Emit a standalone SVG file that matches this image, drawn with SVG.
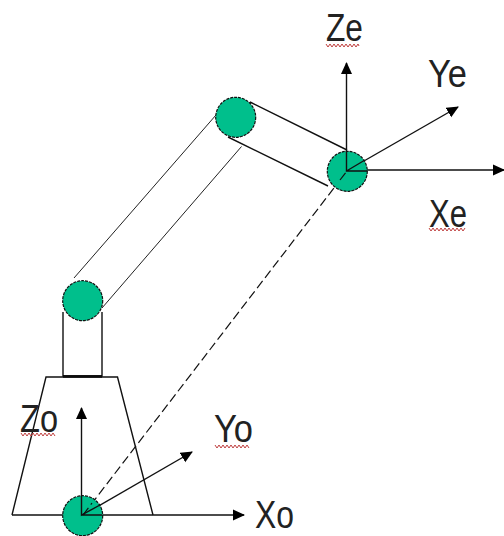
<svg xmlns="http://www.w3.org/2000/svg" width="504" height="536" viewBox="0 0 504 536">
<style>
.l{fill:none;stroke:#111;stroke-width:1.4}
.f{fill:none;stroke:#222;stroke-width:1}
.d{fill:none;stroke:#111;stroke-width:1.2;stroke-dasharray:9 4}
.j{fill:#00bf8c;stroke:#111;stroke-width:1.2;stroke-dasharray:3 1}
.t{font-family:"Liberation Sans",Arial,sans-serif;font-size:39px;fill:#222}
.w{fill:none;stroke:#c04040;stroke-width:1}
</style>
<defs>
<marker id="a" markerUnits="userSpaceOnUse" markerWidth="14" markerHeight="14" refX="11" refY="6" orient="auto"><path d="M0 0.500L12 6L0 11.500z" fill="#000"/></marker>
</defs>
<rect width="504" height="536" fill="#fff"/>
<g id="connectors">
<path class="f" d="M216 115L74 278M241.500 146.500L102 308"/>
<path class="l" d="M250 102L347 150M228 137L328 186"/>
<path class="l" d="M63 312V376H102V312"/>
<path d="M63 376.500H102" fill="none" stroke="#000" stroke-width="2.500"/>
<path class="l" d="M12 515L46 377H117.500L153 515"/>
<path class="d" d="M83 515L347 171"/>
<path class="l" marker-end="url(#a)" d="M12 515H244"/>
<path class="l" marker-end="url(#a)" d="M81.500 515V408"/>
<path class="l" marker-end="url(#a)" d="M83 515L192 452"/>
<path class="l" marker-end="url(#a)" d="M346.500 171V63"/>
<path class="l" marker-end="url(#a)" d="M346.500 171L458 107"/>
<path class="l" marker-end="url(#a)" d="M346.500 170H504"/>
</g>
<g id="joint-base"><circle class="j" cx="82.700" cy="515.700" r="20"/><path class="l" d="M82 515H102M81.500 495V515L100 505"/><path class="d" d="M83 515L92 503"/></g>
<g id="joint-shoulder"><circle class="j" cx="82.700" cy="300.700" r="20"/></g>
<g id="joint-elbow"><circle class="j" cx="235.700" cy="117.300" r="20"/></g>
<g id="joint-wrist"><circle class="j" cx="347.300" cy="171.300" r="20"/><path class="l" d="M346.500 151V171H367M346.500 171L365 160"/><path class="d" d="M340 180L347 171"/></g>
<g id="labels">
<text class="t" x="326" y="41" textLength="37" lengthAdjust="spacingAndGlyphs">Ze</text>
<path class="w" d="M326 44l2 3l2-3l2 3l2-3l2 3l2-3l2 3l2-3l2 3l2-3l2 3l2-3l2 3l2-3l2 3l2-3l1 2"/>
<text class="t" x="428" y="87" textLength="39" lengthAdjust="spacingAndGlyphs">Ye</text>
<text class="t" x="429" y="227" textLength="38" lengthAdjust="spacingAndGlyphs">Xe</text>
<path class="w" d="M429 228l2 3l2-3l2 3l2-3l2 3l2-3l2 3l2-3l2 3l2-3l2 3l2-3l2 3l2-3l2 3l2-3l2 3l2-3"/>
<text class="t" x="20" y="432" textLength="38" lengthAdjust="spacingAndGlyphs">Zo</text>
<path class="w" d="M21 433l2 3l2-3l2 3l2-3l2 3l2-3l2 3l2-3l2 3l2-3l2 3l2-3l2 3l2-3l2 3l2-3l2 3"/>
<text class="t" x="214" y="442" textLength="39" lengthAdjust="spacingAndGlyphs">Yo</text>
<path class="w" d="M215 445l2 3l2-3l2 3l2-3l2 3l2-3l2 3l2-3l2 3l2-3l2 3l2-3l2 3l2-3l2 3l2-3l2 3"/>
<text class="t" x="255" y="528" textLength="39" lengthAdjust="spacingAndGlyphs">Xo</text>
</g>
</svg>
